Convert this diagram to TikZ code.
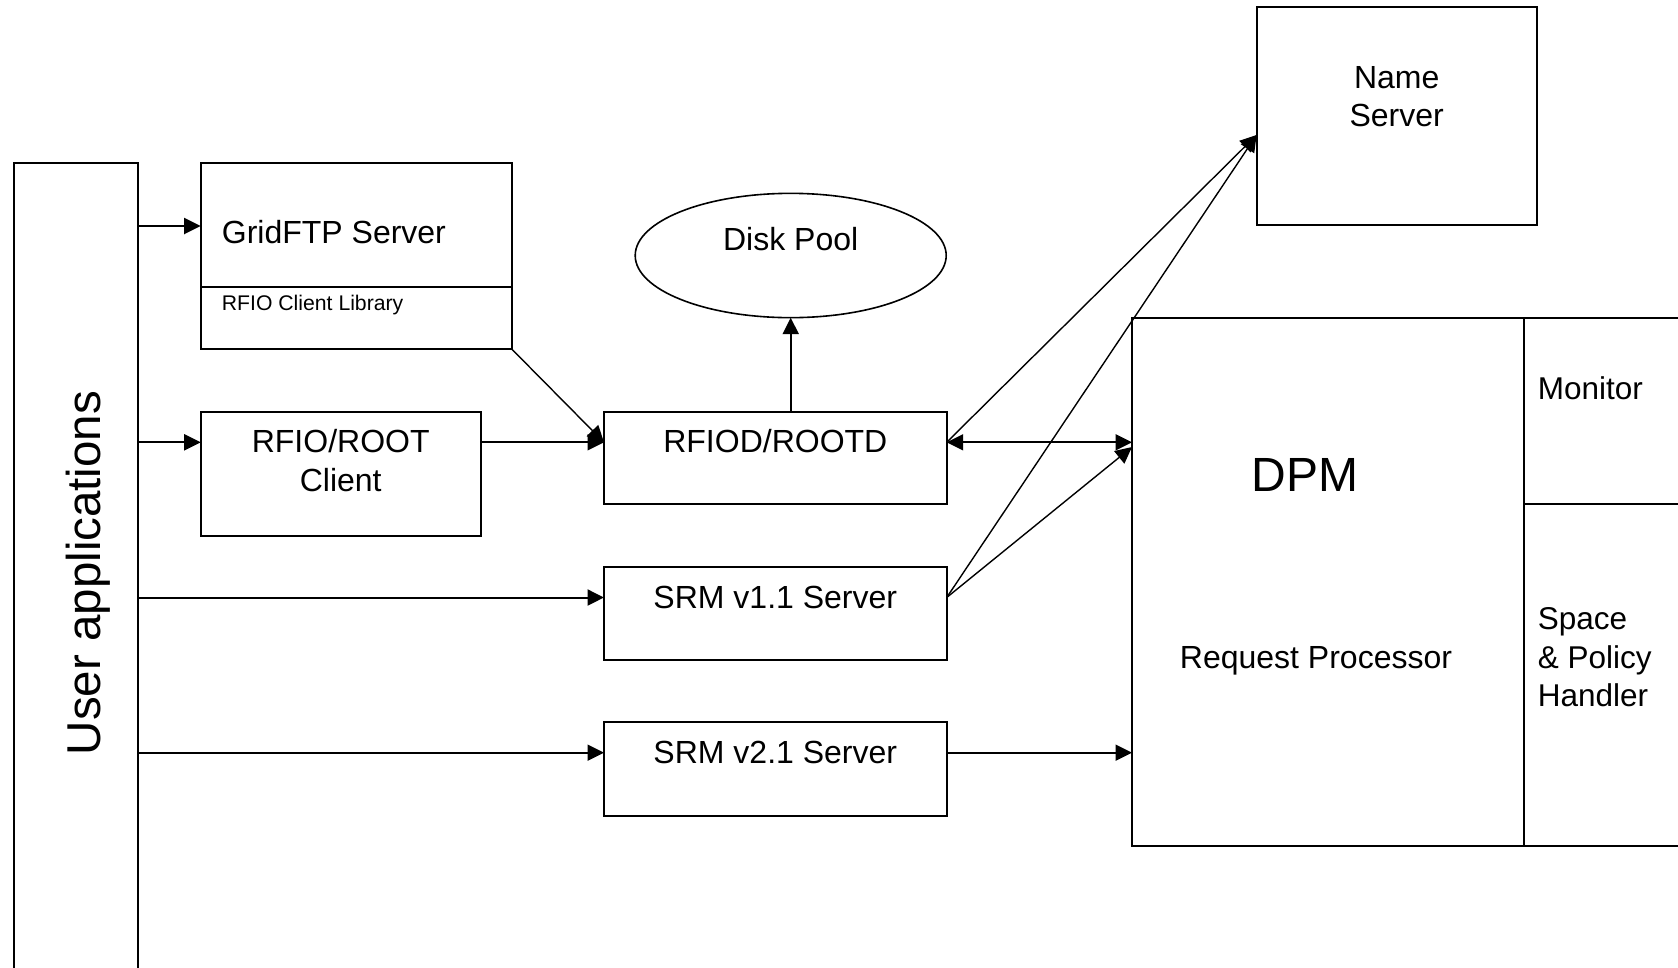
\documentclass[tikz,border=0pt]{standalone}
\usepackage{fontspec}
\setmainfont{Liberation Sans}
\usetikzlibrary{arrows.meta,shapes.geometric,calc}
\begin{document}
\begin{tikzpicture}[x=1pt,y=-1pt,
  box/.style={draw, line width=2pt, inner sep=0pt, outer sep=0pt, rectangle, anchor=north west},
  tip/.tip={Triangle[length=16.5pt,width=16pt]},
  arr/.style={line width=2pt, -tip},
  darr/.style={line width=2pt, tip-tip},
  diag/.style={line width=1.4pt, -tip},
  txt/.style={font=\fontsize{32pt}{38pt}\selectfont, inner sep=0pt, anchor=base},
  txtl/.style={txt, anchor=base west},
  side/.style={font=\fontsize{31.5pt}{38pt}\selectfont, inner sep=0pt, anchor=base west},
]
\path[use as bounding box] (0,0) rectangle (1678,967);
\fill[white] (0,0) rectangle (1678,967);
\begin{scope}
\clip (0,0) rectangle (1678,967);

% boxes
\node[box, minimum width=124.3pt, minimum height=830pt] (userapps) at (14,163) {};
\node[box, minimum width=311pt, minimum height=185.7pt] (gridftp) at (200.7,163.3) {};
\draw[line width=2pt] ($(gridftp.north west)+(0,123.4)$) -- ($(gridftp.north east)+(0,123.4)$);
\node[box, minimum width=280.3pt, minimum height=124pt] (rfclient) at (200.7,411.7) {};
\node[box, minimum width=342.7pt, minimum height=92.6pt] (rfiod) at (604,411.7) {};
\node[box, minimum width=342.7pt, minimum height=93.3pt] (srm1) at (604,566.7) {};
\node[box, minimum width=342.7pt, minimum height=94pt] (srm2) at (604,721.7) {};
\node[box, minimum width=280.2pt, minimum height=217.7pt] (nameserver) at (1256.6,7.3) {};
\node[box, minimum width=600pt, minimum height=527.4pt] (dpm) at (1132,318.3) {};
\draw[line width=2pt] ($(dpm.north west)+(392,0)$) -- ($(dpm.south west)+(392,0)$);
\draw[line width=2pt] ($(dpm.north west)+(392,186)$) -- ($(dpm.north east)+(0,186)$);
\node[draw, ellipse, line width=1.6pt, inner sep=0pt, outer sep=0pt,
      minimum width=311pt, minimum height=124.3pt] (diskpool) at (790.7,255.5) {};

% texts
\node[font=\fontsize{47.5pt}{56pt}\selectfont, inner sep=0pt, rotate=90, anchor=base] (uatext) at (100,573) {User applications};
\node[txtl] (gftext) at (221.7,243.3) {GridFTP Server};
\node[inner sep=0pt, anchor=base west, font=\fontsize{21.2pt}{25pt}\selectfont] (rflib) at (221.7,310) {RFIO Client Library};
\node[txt] (rfc1) at (340.7,452.7) {RFIO/ROOT};
\node[txt] (rfc2) at (340.7,491.7) {Client};
\node[txt] (rfiodtext) at (775.3,452.7) {RFIOD/ROOTD};
\node[txt] (disktext) at (790.7,250.7) {Disk Pool};
\node[txt] (srm1text) at (775.3,608.3) {SRM v1.1 Server};
\node[txt] (srm2text) at (775.3,763.3) {SRM v2.1 Server};
\node[txt] (ns1) at (1396.7,88.3) {Name};
\node[txt] (ns2) at (1396.7,126) {Server};
\node[font=\fontsize{48pt}{56pt}\selectfont, inner sep=0pt, anchor=base] (dpmtext) at (1305,491.7) {DPM};
\node[txt] (reqtext) at (1316,668.3) {Request Processor};
\node[side] (montext) at (1537.7,399) {Monitor};
\node[side] (sp1) at (1537.7,629.3) {Space};
\node[side] (sp2) at (1537.7,668.3) {\& Policy};
\node[side] (sp3) at (1537.7,706.5) {Handler};

% helper coordinates (rows of connectors)
\coordinate (ygf) at (0,226);
\coordinate (yrf) at (0,442.3);
\coordinate (ys1) at (0,597.5);
\coordinate (ys2) at (0,752.7);
\coordinate (yns) at (0,135);
\coordinate (ydpm) at (0,447);

% connectors
\draw[arr] (userapps.east |- ygf) -- (gridftp.west |- ygf);
\draw[arr] (userapps.east |- yrf) -- (rfclient.west |- yrf);
\draw[arr] (userapps.east |- ys1) -- (srm1.west |- ys1);
\draw[arr] (userapps.east |- ys2) -- (srm2.west |- ys2);
\draw[arr] (rfclient.east |- yrf) -- (rfiod.west |- yrf);
\draw[diag] (gridftp.south east) -- (rfiod.west |- yrf);
\draw[arr] (rfiod.north -| diskpool.south) -- (diskpool.south);
\draw[darr] (rfiod.east |- yrf) -- (dpm.west |- yrf);
\draw[diag] (rfiod.east |- yrf) -- (nameserver.west |- yns);
\draw[diag] (srm1.east |- ys1) -- (nameserver.west |- yns);
\draw[diag] (srm1.east |- ys1) -- (dpm.west |- ydpm);
\draw[arr] (srm2.east |- ys2) -- (dpm.west |- ys2);
\end{scope}
\end{tikzpicture}
\end{document}
